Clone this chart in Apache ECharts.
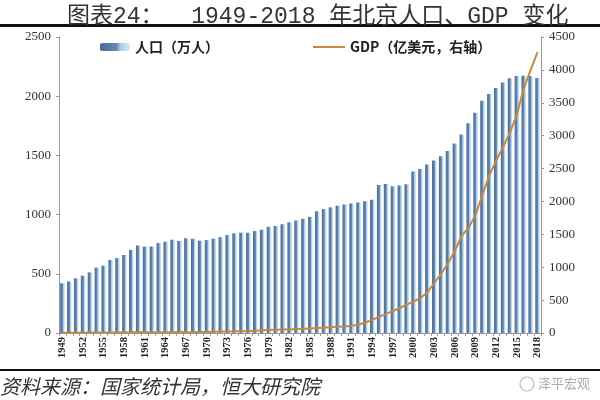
<!DOCTYPE html>
<html><head><meta charset="utf-8">
<script src="https://cdn.jsdelivr.net/npm/echarts@6/dist/echarts.min.js"></script>
<style>html,body{margin:0;padding:0;background:#fff}#c{width:600px;height:400px}</style>
</head><body><div id="c"></div>
<script>
const years = [];
for (let y = 1949; y <= 2018; y++) years.push(String(y));
const population = [420,435,462,484,512,552,569,617,633,659,701,739,730,730,760,771,788,777,800,796,780,785,797,810,828,842,847,847,861,872,897,904,919,935,950,965,981,1028,1047,1061,1075,1086,1094,1102,1112,1125,1251,1259,1240,1246,1257,1364,1385,1423,1456,1493,1538,1601,1676,1771,1860,1962,2019,2069,2115,2152,2171,2173,2171,2154];
const gdp = [3,4,5,5,6,7,7,8,9,11,13,14,11,10,11,12,13,14,13,13,15,17,19,21,23,25,28,29,32,40,45,50,52,55,60,65,70,75,80,90,95,100,110,125,160,200,248,290,335,380,430,480,532,620,760,900,1060,1250,1480,1600,1800,2100,2400,2620,2830,3050,3320,3720,4000,4270];
const leftTicks = [0,500,1000,1500,2000,2500];
const rightTicks = [0,500,1000,1500,2000,2500,3000,3500,4000,4500];

const chart = echarts.init(document.getElementById('c'), null, {renderer:'canvas'});
const serif = '"Liberation Serif","Times New Roman",serif';
const cjk = '"Noto Sans CJK SC","Noto Sans",sans-serif';
chart.setOption({
  animation:false,
  backgroundColor:'#fff',
  title:{
    text:'图表24：  1949-2018 年北京人口、GDP 变化',
    left:62, top:0,
    textStyle:{fontFamily:'"Liberation Mono","Noto Sans CJK SC",monospace', fontSize:23, fontWeight:'normal', color:'#333'}
  },
  legend:[
    {data:['人口（万人）'], left:95, top:35, itemWidth:30, itemHeight:8,
     textStyle:{fontFamily:cjk, fontSize:14, fontWeight:'bold', color:'#222'}},
    {data:['GDP（亿美元，右轴）'], left:308, top:35, itemWidth:32, itemHeight:2, icon:'rect',
     textStyle:{fontFamily:cjk, fontSize:14, fontWeight:'bold', color:'#222'}}
  ],
  grid:{left:59, right:59, top:37, bottom:67, containLabel:false},
  xAxis:{
    type:'category', data:years, boundaryGap:true,
    axisLine:{lineStyle:{color:'#999', width:1}},
    axisTick:{show:true, interval:0, length:3, lineStyle:{color:'#999'}},
    axisLabel:{interval:2, rotate:90, fontFamily:serif, fontSize:10.5, fontWeight:'bold', color:'#222', margin:4}
  },
  yAxis:[
    {type:'value', min:0, max:2500, interval:500,
     axisLine:{show:true, lineStyle:{color:'#999'}},
     axisTick:{show:true, length:3, lineStyle:{color:'#999'}},
     splitLine:{show:false},
     axisLabel:{fontFamily:serif, fontSize:13, color:'#333', margin:8,
       formatter:v=>leftTicks.includes(v)?String(v):''}},
    {type:'value', min:0, max:4500, interval:500,
     axisLine:{show:true, lineStyle:{color:'#999'}},
     axisTick:{show:true, length:3, lineStyle:{color:'#999'}},
     splitLine:{show:false},
     axisLabel:{fontFamily:serif, fontSize:13, color:'#333', margin:8,
       formatter:v=>rightTicks.includes(v)?String(v):''}}
  ],
  series:[
    {name:'人口（万人）', type:'bar', data:population, yAxisIndex:0, barWidth:'66%',
     itemStyle:{color:new echarts.graphic.LinearGradient(0,0,1,0,[
       {offset:0,color:'#4a6d97'},{offset:0.55,color:'#6689b2'},{offset:0.68,color:'#a9cbe6'},{offset:1,color:'#d6eaf7'}])}},
    {name:'GDP（亿美元，右轴）', type:'line', data:gdp, yAxisIndex:1, symbol:'none', showSymbol:false,
     lineStyle:{color:'#c8893f', width:2}, itemStyle:{color:'#c8893f'}, z:5}
  ],
  graphic:[
    {type:'rect', shape:{x:0,y:24,width:600,height:3}, style:{fill:'#111'}},
    {type:'rect', shape:{x:0,y:369,width:600,height:2}, style:{fill:'#111'}},
    {type:'text', left:0, top:376, style:{text:'资料来源：国家统计局，恒大研究院', font:'italic 20px "Noto Sans CJK SC"', fill:'#333'}},
    {type:'circle', shape:{cx:527, cy:384, r:7}, style:{fill:'none', stroke:'#bbb', lineWidth:1.2}},
    {type:'text', left:538, top:377, style:{text:'泽平宏观', font:'13px "Noto Sans CJK SC"', fill:'#aaa'}}
  ]
});
</script></body></html>
